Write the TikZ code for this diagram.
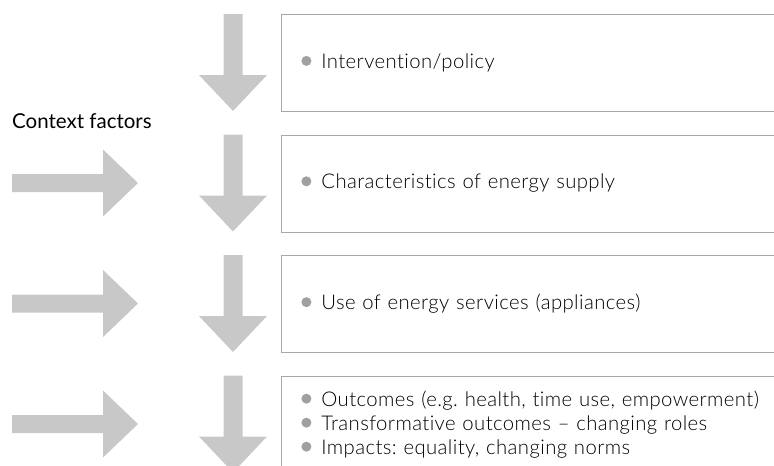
\documentclass[tikz,border=0pt]{standalone}
\usepackage{fontspec}
\setmainfont{Lato}
\newfontfamily\lightfont{Lato Light}[Ligatures={TeX,NoCommon}, LetterSpace=2]
\frenchspacing

\definecolor{arrowgrey}{HTML}{C8C8C8}
\definecolor{framegrey}{HTML}{A8A8A8}
\definecolor{dotgrey}{HTML}{A0A0A0}

\newcommand{\dotmark}{\tikz[baseline=-7.6pt]\fill[dotgrey] (0,0) circle (5pt);}

\tikzset{
  stage/.style={draw=framegrey, line width=0.8pt, anchor=north west,
    minimum width=540pt, minimum height=97pt, text width=500pt,
    align=left, inner xsep=17.5pt, font=\lightfont\fontsize{20.3}{24}\selectfont},
  blockarrow/.style={fill=arrowgrey, draw=none}
}

\begin{document}
\begin{tikzpicture}
  [x=1pt,y=-1pt]
    \useasboundingbox (0,0) rectangle (774,466);
    \clip (0,0) rectangle (774,466);

    \node (s1) [stage] at (281,14)    {\dotmark\hspace{10pt}Intervention/policy};
    \node (s2) [stage] at (281,134.5) {\dotmark\hspace{10pt}Characteristics of energy supply};
    \node (s3) [stage] at (281,255)   {\dotmark\hspace{10pt}Use of energy services (appliances)};
    \node (s4) [stage] at (281,375.5) {\dotmark\hspace{10pt}Outcomes (e.g. health, time use, empowerment)\\
                                       \dotmark\hspace{10pt}Transformative outcomes -- changing roles\\
                                       \dotmark\hspace{10pt}Impacts: equality, changing norms};

    \node (ctx) [anchor=base west, inner sep=0pt, font=\fontsize{20.5}{24}\selectfont]
      at (12,128) {Context factors};

    % down arrows beside each stage
    \foreach \i in {1,...,4} {
      \pgfmathsetmacro\t{14+120.5*(\i-1)}
      \fill[blockarrow] (223.5,\t) -- (242.5,\t) -- (242.5,{\t+61}) -- (267,{\t+61})
        -- (233,{\t+97}) -- (199,{\t+61}) -- (223.5,{\t+61}) -- cycle;
    }

    % context arrows from the left
    \foreach \i in {2,3,4} {
      \pgfmathsetmacro\c{14+120.5*(\i-1)+48.5}
      \fill[blockarrow] (12,{\c-9}) -- (103,{\c-9}) -- (103,{\c-33.5}) -- (138,\c)
        -- (103,{\c+33.5}) -- (103,{\c+9}) -- (12,{\c+9}) -- cycle;
    }
  \end{tikzpicture}
\end{document}
